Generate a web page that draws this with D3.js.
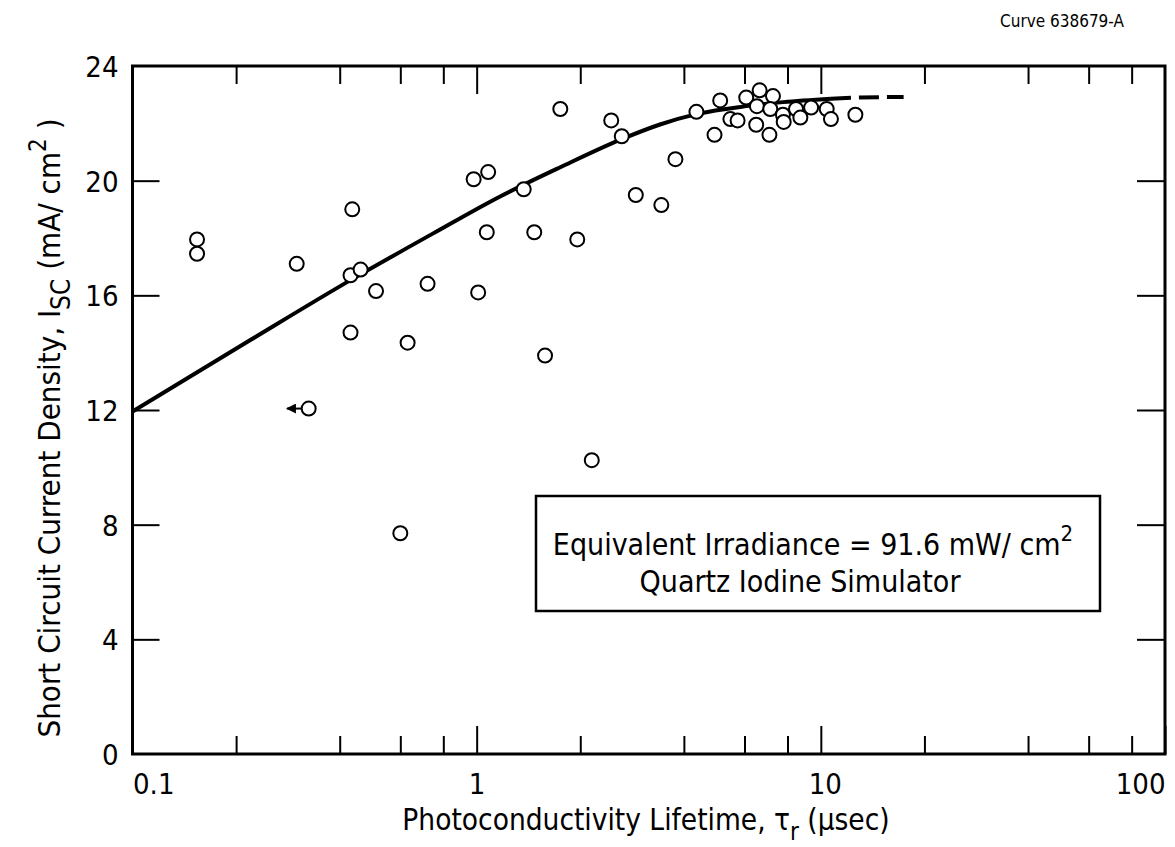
<!DOCTYPE html>
<html>
<head>
<meta charset="utf-8">
<script src="https://cdn.jsdelivr.net/npm/d3@7"></script>
<style>
  body { margin: 0; background: #fff; }
  svg { display: block; }
  text { font-family: "DejaVu Sans Condensed", "Liberation Sans Narrow", "DejaVu Sans", sans-serif; font-stretch: condensed; fill: #000; }
</style>
</head>
<body>
<div id="chart"></div>
<script>
// measured points: lifetime (usec) vs short circuit current (mA/cm2)
const tau = [0.154, 0.154, 0.30, 0.435, 0.43, 0.46, 0.51, 0.72, 1.01, 0.98, 1.08, 1.07,
  0.43, 0.63, 0.325, 0.60, 1.75, 2.46, 2.64, 1.37, 3.78, 2.90, 3.44, 1.47, 1.96, 1.58,
  2.16, 4.35, 5.10, 4.91, 5.46, 5.73, 6.07, 6.64, 7.26, 6.52, 7.13, 6.49, 7.09, 7.76,
  7.80, 8.47, 8.72, 9.37, 10.4, 10.7, 12.6];
const isc = [17.95, 17.45, 17.1, 19.0, 16.7, 16.9, 16.15, 16.4, 16.1, 20.05, 20.3, 18.2,
  14.7, 14.35, 12.05, 7.7, 22.5, 22.1, 21.55, 19.7, 20.75, 19.5, 19.15, 18.2, 17.95, 13.9,
  10.25, 22.4, 22.8, 21.6, 22.15, 22.1, 22.9, 23.15, 22.95, 22.6, 22.5, 21.95, 21.6, 22.3,
  22.05, 22.5, 22.2, 22.55, 22.5, 22.15, 22.3];

// fitted curve (solid) and its extrapolation (dashed)
const curveTau = [0.1, 0.22, 0.43, 0.75, 1.17, 1.75, 2.64, 3.41, 4.35, 6.07, 7.78, 10.7];
const curveIsc = [11.95, 14.44, 16.53, 18.17, 19.45, 20.47, 21.45, 21.96, 22.32, 22.6, 22.74, 22.86];
const dashTau = [10.7, 13.0, 17.4];
const dashIsc = [22.86, 22.9, 22.92];

// the point at 0.3 usec has an arrow: lifetime is an upper bound
const arrowTau = [0.325, 0.281];
const arrowIsc = [12.05, 12.05];

const tauMajor = [0.1, 1, 10, 100];
const tauMinor = [0.2, 0.4, 0.6, 0.8, 2, 4, 6, 8, 20, 40, 60, 80];
const iscTicks = [0, 4, 8, 12, 16, 20, 24];

const W = 1175, H = 847;
const margin = {top: 66, right: 10, bottom: 93, left: 132.5};
const plotW = 1165 - margin.left, plotH = 754 - margin.top;

const svg = d3.select("#chart").append("svg")
    .attr("width", W)
    .attr("height", H);

const g = svg.append("g").attr("transform", `translate(${margin.left},${margin.top})`);

const x = d3.scaleLog().domain([0.1, 100]).range([0, plotW]);
const y = d3.scaleLinear().domain([0, 24]).range([plotH, 0]);

// ticks, all pointing into the plot
function styleAxis(sel) {
    sel.select(".domain").remove();
    sel.selectAll(".tick line").attr("stroke", "#000").attr("stroke-width", 2);
}

g.append("g").attr("transform", `translate(0,${plotH})`)
    .call(d3.axisBottom(x).tickValues(tauMinor).tickSize(-18).tickFormat(""))
    .call(styleAxis);
g.append("g")
    .call(d3.axisTop(x).tickValues(tauMinor).tickSize(-18).tickFormat(""))
    .call(styleAxis);
g.append("g")
    .call(d3.axisTop(x).tickValues(tauMajor.slice(1, 3)).tickSize(-28).tickFormat(""))
    .call(styleAxis);

const xAxis = g.append("g").attr("transform", `translate(0,${plotH})`)
    .call(d3.axisBottom(x).tickValues(tauMajor).tickSize(-28).tickPadding(40)
        .tickFormat(d => d < 1 ? "0.1" : d3.format("d")(d)))
    .call(styleAxis);
xAxis.selectAll(".tick text")
    .attr("font-size", 29)
    .attr("dy", 0)
    .attr("text-anchor", d => d === 0.1 ? "start" : d === 100 ? "end" : "middle")
    .attr("dx", d => d === 10 ? 4 : 0);

const yAxis = g.append("g")
    .call(d3.axisLeft(y).tickValues(iscTicks).tickSize(-27).tickPadding(14))
    .call(styleAxis);
yAxis.selectAll(".tick text").attr("font-size", 29).attr("dy", "0.36em");
yAxis.selectAll(".tick").filter(d => d === 0 || d === 24).select("line").remove();

g.append("g").attr("transform", `translate(${plotW},0)`)
    .call(d3.axisRight(y).tickValues(iscTicks.slice(1, -1)).tickSize(-28).tickFormat(""))
    .call(styleAxis);

// frame
g.append("rect")
    .attr("width", plotW).attr("height", plotH)
    .attr("fill", "none").attr("stroke", "#000").attr("stroke-width", 3);

// curves
const line = d3.line().x(d => x(d[0])).y(d => y(d[1])).curve(d3.curveMonotoneX);
g.append("path")
    .datum(d3.zip(curveTau, curveIsc))
    .attr("d", line)
    .attr("fill", "none").attr("stroke", "#000").attr("stroke-width", 4);
g.append("path")
    .datum(d3.zip(dashTau, dashIsc))
    .attr("d", line)
    .attr("fill", "none").attr("stroke", "#000").attr("stroke-width", 4)
    .attr("stroke-dasharray", "20 8");

// arrow
svg.append("defs").append("marker")
    .attr("id", "head").attr("viewBox", "0 0 10 10")
    .attr("refX", 9).attr("refY", 5)
    .attr("markerWidth", 5).attr("markerHeight", 5)
    .attr("orient", "auto")
    .append("path").attr("d", "M0,0L10,5L0,10Z").attr("fill", "#000");
g.append("line")
    .attr("x1", x(arrowTau[0]) - 7).attr("y1", y(arrowIsc[0]))
    .attr("x2", x(arrowTau[1])).attr("y2", y(arrowIsc[1]))
    .attr("stroke", "#000").attr("stroke-width", 2)
    .attr("marker-end", "url(#head)");

// data points
g.append("g").selectAll("circle")
    .data(d3.zip(tau, isc))
    .join("circle")
    .attr("cx", d => x(d[0]))
    .attr("cy", d => y(d[1]))
    .attr("r", 7)
    .attr("fill", "#fff")
    .attr("stroke", "#000")
    .attr("stroke-width", 2);

// note box
const note = svg.append("g");
note.append("rect")
    .attr("x", 536).attr("y", 496).attr("width", 564).attr("height", 115)
    .attr("fill", "#fff").attr("stroke", "#000").attr("stroke-width", 2.5);
const l1 = note.append("text").attr("x", 813).attr("y", 555)
    .attr("text-anchor", "middle").attr("font-size", 30);
l1.append("tspan").text("Equivalent Irradiance = 91.6 mW/ cm");
l1.append("tspan").attr("dy", -14).attr("font-size", 22).text("2");
note.append("text").attr("x", 800).attr("y", 592)
    .attr("text-anchor", "middle").attr("font-size", 30)
    .text("Quartz Iodine Simulator");

// axis titles
const xt = svg.append("text").attr("x", 646).attr("y", 830)
    .attr("text-anchor", "middle").attr("font-size", 29.5);
xt.append("tspan").text("Photoconductivity Lifetime,  τ");
xt.append("tspan").attr("dy", 10).attr("font-size", 24).text("r");
xt.append("tspan").attr("dy", -10).text(" (μsec)");

const yt = svg.append("text")
    .attr("transform", "translate(60,428) rotate(-90)")
    .attr("text-anchor", "middle").attr("font-size", 31);
yt.append("tspan").text("Short Circuit Current Density,  I");
yt.append("tspan").attr("dy", 10).attr("font-size", 26).text("SC");
yt.append("tspan").attr("dy", -10).text(" (mA/ cm");
yt.append("tspan").attr("dy", -14).attr("font-size", 24).text("2");
yt.append("tspan").attr("dy", 14).text(" )");

svg.append("text").attr("x", 1000).attr("y", 27)
    .attr("font-size", 17)
    .text("Curve 638679-A");
</script>
</body>
</html>
